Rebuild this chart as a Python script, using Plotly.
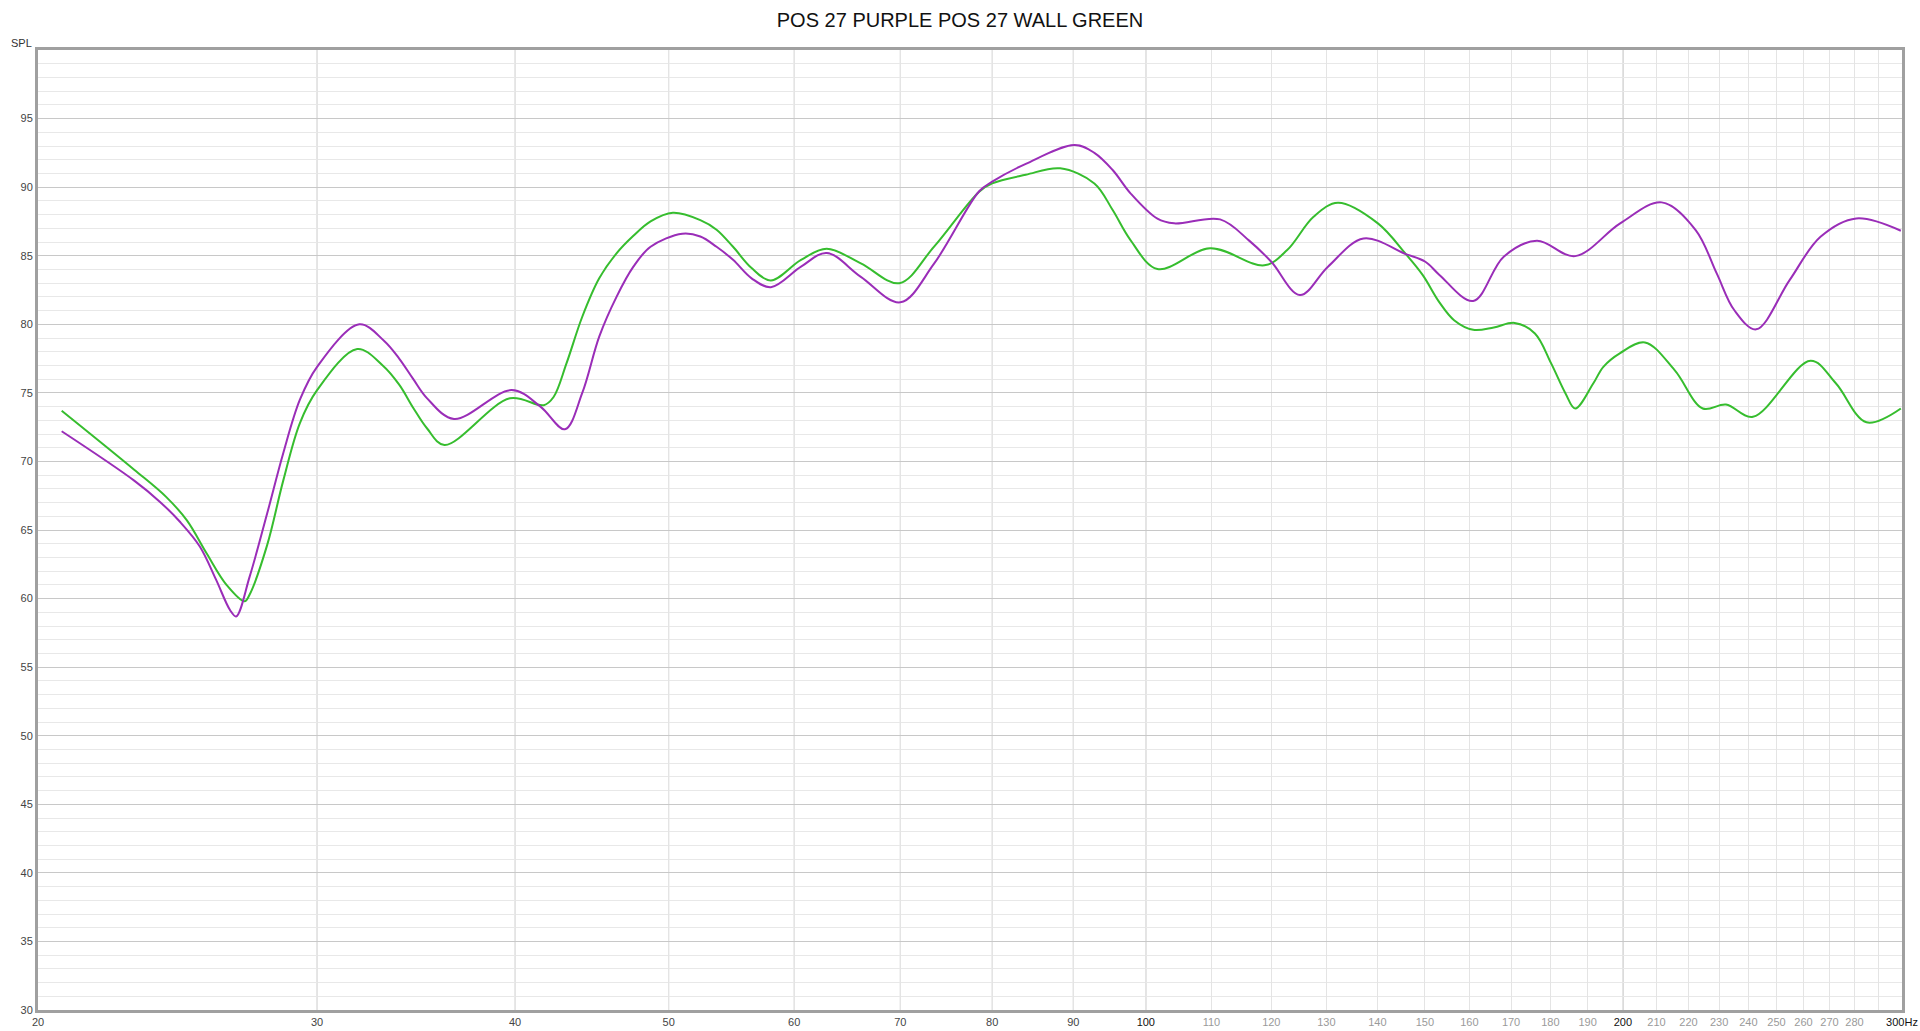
import math
import plotly.graph_objects as go

# ---- data ----
freq_purple = [20.7, 23.0, 23.88, 24.58, 25.3, 25.9, 26.44, 26.67, 27.2, 27.9, 28.56, 29.26, 30.0,
               31.9, 33.06, 33.8, 34.5, 35.2, 36.6, 39.8, 41.5, 43.0, 44.1, 45.2, 46.35, 47.5,
               48.7, 51.0, 52.35, 53.6, 54.9, 56.4, 58.0, 60.6, 62.9, 66.1, 70.0, 73.5, 78.5, 80.0,
               84.0, 90.2, 92.8, 95.3, 97.8, 101.7, 104.2, 111.4, 116.2, 120.0, 125.1, 130.3,
               137.2, 145.9, 150.1, 153.2, 160.9, 168.2, 176.5, 186.6, 199.2, 211.6, 222.3, 229.2,
               235.1, 242.7, 254.8, 266.5, 280.7, 299.5]
spl_purple = [72.2, 68.6, 67.05, 65.6, 63.8, 61.4, 59.15, 58.7, 61.6, 66.2, 70.6, 74.5, 76.9,
              80.0, 78.8, 77.5, 76.0, 74.6, 73.1, 75.2, 74.0, 72.35, 75.0, 79.1, 82.0, 84.2,
              85.65, 86.6, 86.4, 85.65, 84.7, 83.35, 82.7, 84.2, 85.2, 83.46, 81.6, 84.4, 89.7,
              90.4, 91.7, 93.07, 92.5, 91.25, 89.55, 87.7, 87.36, 87.65, 86.1, 84.56, 82.13, 84.2,
              86.26, 85.12, 84.56, 83.6, 81.7, 84.93, 86.09, 84.97, 87.36, 88.89, 86.87, 83.71,
              81.04, 79.63, 83.22, 86.38, 87.72, 86.82]

freq_green = [20.7, 23.0, 24.1, 24.83, 25.55, 26.3, 27.0, 27.2, 27.9, 28.56, 29.26, 30.0, 31.8,
              33.0, 33.8, 34.5, 35.2, 36.1, 39.7, 41.7, 42.3, 43.1, 44.1, 45.2, 46.35, 47.5, 48.7,
              50.3, 52.35, 53.6, 54.9, 56.4, 58.0, 60.6, 62.9, 66.1, 69.9, 73.5, 78.5, 80.0, 84.0,
              88.3, 92.8, 95.3, 97.8, 101.7, 109.8, 118.8, 122.8, 127.6, 132.2, 140.1, 145.9,
              149.5, 153.2, 156.5, 160.9, 165.8, 170.9, 176.0, 180.2, 184.0, 186.6, 191.6, 194.4,
              199.2, 206.5, 215.6, 224.6, 232.3, 241.6, 262.7, 272.5, 284.9, 299.5]
spl_green = [73.7, 69.4, 67.4, 65.7, 63.3, 61.0, 59.8, 60.3, 63.9, 68.6, 72.8, 75.2, 78.2,
             77.0, 75.6, 73.9, 72.4, 71.2, 74.6, 74.1, 74.7, 77.15, 80.55, 83.35, 85.17, 86.45,
             87.5, 88.13, 87.6, 86.9, 85.65, 84.1, 83.2, 84.7, 85.5, 84.44, 83.0, 85.65, 89.67,
             90.27, 90.9, 91.37, 90.27, 88.33, 86.14, 84.03, 85.54, 84.3, 85.41, 87.84, 88.86,
             87.36, 85.12, 83.6, 81.6, 80.3, 79.6, 79.77, 80.1, 79.33, 77.15, 74.96, 73.86, 75.7,
             76.9, 77.9, 78.68, 76.66, 73.86, 74.15, 73.25, 77.34, 75.7, 72.85, 73.86]

x_label_vals = [20, 30, 40, 50, 60, 70, 80, 90, 100, 110, 120, 130, 140, 150, 160, 170, 180, 190,
                200, 210, 220, 230, 240, 250, 260, 270, 280, 290, 300]
x_label_text = ["20", "30", "40", "50", "60", "70", "80", "90", "100", "110", "120", "130", "140",
                "150", "160", "170", "180", "190", "200", "210", "220", "230", "240", "250", "260",
                "270", "280", "", "300Hz"]
major_x = [30, 40, 50, 60, 70, 80, 90]
decade_x = [100, 200]
y_ticks = list(range(30, 100, 5))
title_text = "POS 27 PURPLE POS 27 WALL GREEN"


def style_label(v, t):
    if t == "":
        return t
    if v in (100, 200, 300):
        col = "#111111"
    elif v <= 90:
        col = "#444444"
    else:
        col = "#9a9a9a"
    return f'<span style="color:{col}">{t}</span>'


styled = [style_label(v, t) for v, t in zip(x_label_vals, x_label_text)]

fig = go.Figure()
fig.add_trace(go.Scatter(x=freq_green, y=spl_green, mode="lines",
                         line=dict(color="#36bd2e", width=2, shape="spline", smoothing=1.0),
                         name="POS 27 WALL", hoverinfo="skip"))
fig.add_trace(go.Scatter(x=freq_purple, y=spl_purple, mode="lines",
                         line=dict(color="#9a2db8", width=2, shape="spline", smoothing=1.0),
                         name="POS 27", hoverinfo="skip"))

shapes = []
for f in major_x:
    shapes.append(dict(type="line", xref="x", yref="paper", x0=f, x1=f, y0=0, y1=1,
                       line=dict(color="#c4c4c4", width=1), layer="below"))
for f in decade_x:
    shapes.append(dict(type="line", xref="x", yref="paper", x0=f, x1=f, y0=0, y1=1,
                       line=dict(color="#a8a8a8", width=1), layer="below"))

fig.update_layout(
    width=1920, height=1031,
    margin=dict(l=38, r=18, t=50, b=21),
    paper_bgcolor="white", plot_bgcolor="white",
    showlegend=False,
    font=dict(family="Liberation Sans, Arial, sans-serif", size=11, color="#444444"),
    title=dict(text=title_text, x=0.5, xref="container", xanchor="center",
               y=1 - 20 / 1031, yref="container", yanchor="middle",
               font=dict(family="Liberation Sans, Arial, sans-serif", size=20, color="#111111")),
    shapes=shapes,
    annotations=[dict(text="SPL", xref="paper", yref="paper", x=-4 / 1864, y=1 + 7 / 960,
                      xanchor="right", yanchor="middle", showarrow=False,
                      font=dict(size=11, color="#333333"))],
    xaxis=dict(type="log", range=[math.log10(20), math.log10(300)],
               tickmode="array", tickvals=x_label_vals, ticktext=styled,
               showgrid=True, gridcolor="#e4e4e4", gridwidth=1,
               showline=True, linecolor="#a0a0a0", linewidth=3, mirror=True,
               ticks="", ticklen=0, zeroline=False, automargin=False,
               tickfont=dict(size=11)),
    yaxis=dict(range=[30, 100], tickmode="array", tickvals=y_ticks,
               showgrid=True, gridcolor="#c8c8c8", gridwidth=1,
               minor=dict(dtick=1, showgrid=True, gridcolor="#e8e8e8", gridwidth=1),
               showline=True, linecolor="#a0a0a0", linewidth=3, mirror=True,
               ticks="", zeroline=False, automargin=False,
               tickfont=dict(size=11, color="#444444")),
)

fig.write_html("out.html",
               config={"displayModeBar": False, "staticPlot": True},
               post_script="document.body.style.margin='0px';"
                           "document.documentElement.style.overflow='hidden';")
